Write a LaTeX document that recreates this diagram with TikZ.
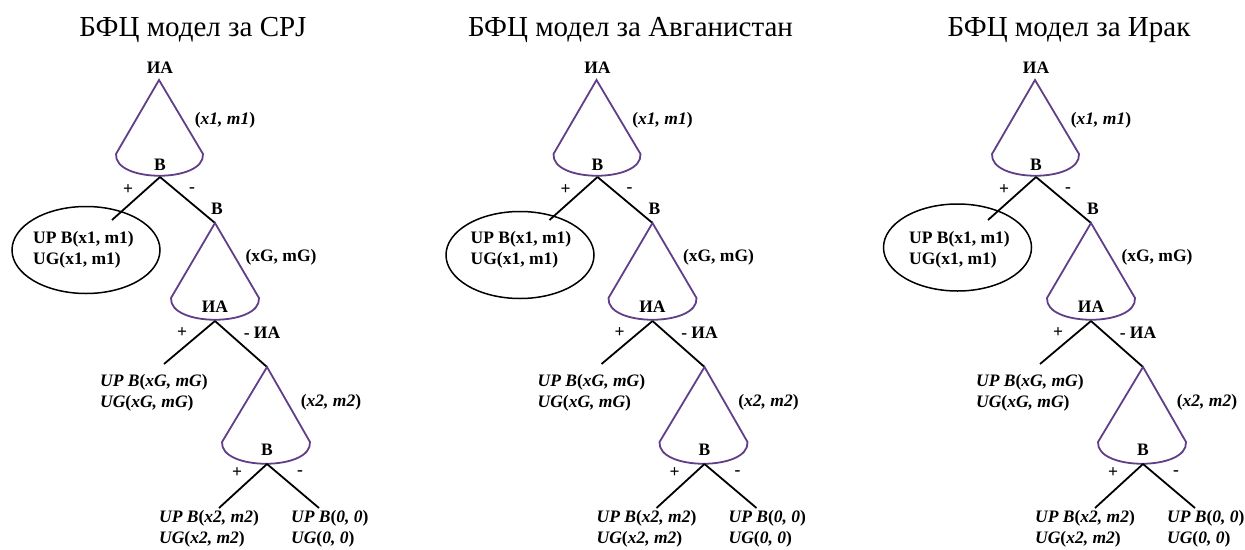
\documentclass[tikz,border=0pt]{standalone}
\usepackage{fontspec}
\setmainfont{Liberation Serif}
\usetikzlibrary{shapes.geometric}
\definecolor{conepurple}{RGB}{96,62,136}

\begin{document}
\begin{tikzpicture}[x=1pt, y=-1pt,
  cone/.style={draw=conepurple, line width=1.8pt},
  edge/.style={draw=black, line width=1.8pt},
  lbl/.style={font=\fontsize{17.5}{21}\selectfont\bfseries, inner sep=0pt},
  leaf/.style={lbl, align=left, anchor=west},
  oval/.style={ellipse, draw=black, line width=1.5pt, inner sep=0pt,
               minimum width=148pt, minimum height=87pt},
  title/.style={font=\fontsize{29}{34}\selectfont, inner sep=0pt, anchor=base}
]
  \useasboundingbox (0,0) rectangle (1245,549);
  \foreach \dx/\p/\ttl/\ex/\ey in {0/a/{БФЦ модел за СРЈ}/86/250,
      437.5/b/{БФЦ модел за Авганистан}/82.5/255,
      876/c/{БФЦ модел за Ирак}/81.5/247.5}{
  \begin{scope}[xshift=\dx]
    \node[title] (title-\p) at (193,36) {\ttl};
    % first cone
    \node[lbl] (top-\p) at (160,68) {ИА};
    \coordinate (c1-\p) at (159,80);
    \draw[cone] (c1-\p) -- ++(-43,74) .. controls +(-2,29) and +(2,29) .. ++(87,0) -- cycle;
    \node[lbl] (b1-\p) at (160,165) {B};
    \node[lbl] (p1-\p) at (225,120) {(\textit{x1, m1})};
    \coordinate (s1-\p) at (160,177);
    \coordinate (l1-\p) at (112,220);
    \coordinate (c2-\p) at (215,223);
    \draw[edge] (s1-\p) -- (l1-\p);
    \draw[edge] (s1-\p) -- (c2-\p);
    \node[lbl] (plus1-\p) at (128,190) {+};
    \node[lbl] (minus1-\p) at (192,190) {-};
    \node[lbl] (b2-\p) at (217,209) {B};
    \node[oval] (oval-\p) at (\ex,\ey) {};
    \node[leaf] (win-\p) at (33,249.5) {UP B(x1, m1)\\UG(x1, m1)};
    % second cone
    \draw[cone] (c2-\p) -- ++(-44,75) .. controls +(-2,29) and +(2,29) .. ++(88,0) -- cycle;
    \node[lbl] (ia2-\p) at (215,307) {ИА};
    \node[lbl] (pG-\p) at (281,257) {(xG, mG)};
    \coordinate (s2-\p) at (215,321);
    \coordinate (l2-\p) at (164,364);
    \coordinate (c3-\p) at (267,367);
    \draw[edge] (s2-\p) -- (l2-\p);
    \draw[edge] (s2-\p) -- (c3-\p);
    \node[lbl] (plus2-\p) at (182,333) {+};
    \node[lbl] (minus2-\p) at (262,333) {- ИА};
    \node[leaf] (leafG-\p) at (100,392.5) {\textit{UP B}(\textit{xG, mG})\\\textit{UG}(\textit{xG, mG})};
    % third cone
    \draw[cone] (c3-\p) -- ++(-45,75) .. controls +(-2,29) and +(2,29) .. ++(88,0) -- cycle;
    \node[lbl] (b3-\p) at (267,450) {B};
    \node[lbl] (p2-\p) at (331,402) {(\textit{x2, m2})};
    \coordinate (s3-\p) at (267,464);
    \coordinate (l3-\p) at (219,508);
    \coordinate (r3-\p) at (319,508);
    \draw[edge] (s3-\p) -- (l3-\p);
    \draw[edge] (s3-\p) -- (r3-\p);
    \node[lbl] (plus3-\p) at (237,473) {+};
    \node[lbl] (minus3-\p) at (300,473) {-};
    \node[leaf] (leaf2-\p) at (159,528.5) {\textit{UP B}(\textit{x2, m2})\\\textit{UG}(\textit{x2, m2})};
    \node[leaf] (leaf0-\p) at (291,528.5) {\textit{UP B}(\textit{0, 0})\\\textit{UG}(\textit{0, 0})};
  \end{scope}
  }
\end{tikzpicture}
\end{document}
